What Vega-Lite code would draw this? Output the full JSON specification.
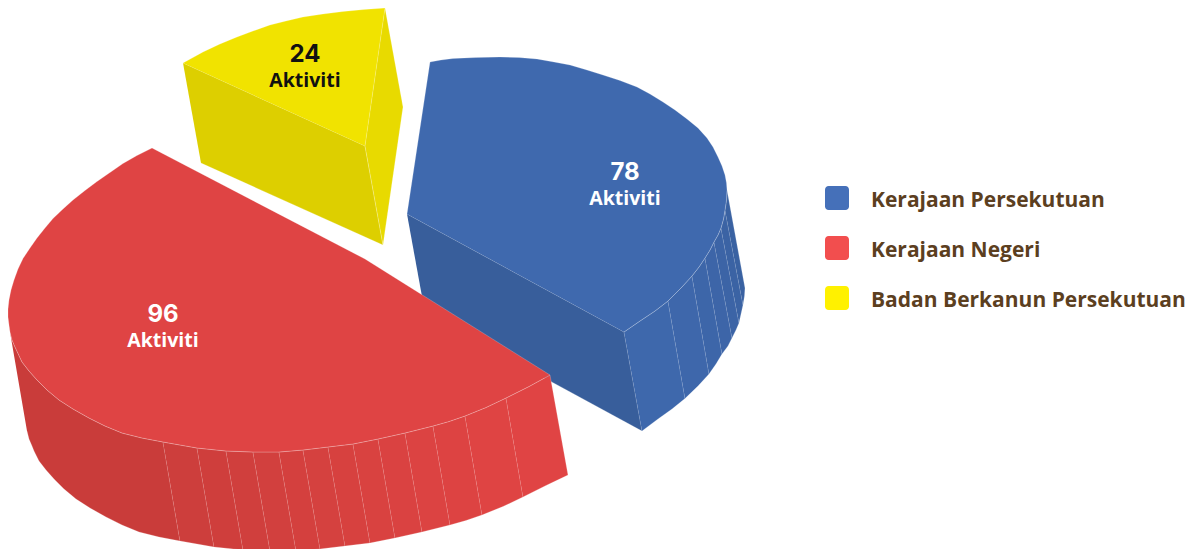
{"$schema":"https://vega.github.io/schema/vega-lite/v6.json","width":1192,"height":549,"padding":0,"autosize":{"type":"none"},"background":"white","view":{"stroke":null},
"datasets":{"slices":[
{"kategori":"Kerajaan Persekutuan","aktiviti":78,"lx":625,"ly":186},
{"kategori":"Kerajaan Negeri","aktiviti":96,"lx":163,"ly":328},
{"kategori":"Badan Berkanun Persekutuan","aktiviti":24,"lx":305,"ly":68}],
"faces":[
{"p":"P-side","i":0,"x":407,"y":214},{"p":"P-side","i":1,"x":624,"y":332},{"p":"P-side","i":2,"x":642,"y":431},{"p":"P-side","i":3,"x":425,"y":313},
{"p":"P1","i":0,"x":624,"y":332},{"p":"P1","i":1,"x":640,"y":321},{"p":"P1","i":2,"x":655,"y":311},{"p":"P1","i":3,"x":668,"y":301},{"p":"P1","i":4,"x":685,"y":398.5},{"p":"P1","i":5,"x":672,"y":409},{"p":"P1","i":6,"x":658,"y":419},{"p":"P1","i":7,"x":642,"y":431},
{"p":"P2","i":0,"x":668,"y":301},{"p":"P2","i":1,"x":681,"y":288},{"p":"P2","i":2,"x":692,"y":276},{"p":"P2","i":3,"x":709,"y":374},{"p":"P2","i":4,"x":698,"y":386},{"p":"P2","i":5,"x":685,"y":398.5},
{"p":"P3","i":0,"x":692,"y":276},{"p":"P3","i":1,"x":699,"y":267},{"p":"P3","i":2,"x":705,"y":258},{"p":"P3","i":3,"x":722,"y":354},{"p":"P3","i":4,"x":716,"y":364},{"p":"P3","i":5,"x":709,"y":374},
{"p":"P4","i":0,"x":705,"y":258},{"p":"P4","i":1,"x":710,"y":250},{"p":"P4","i":2,"x":714,"y":242},{"p":"P4","i":3,"x":732,"y":338},{"p":"P4","i":4,"x":728,"y":346},{"p":"P4","i":5,"x":722,"y":354},
{"p":"P5","i":0,"x":714,"y":242},{"p":"P5","i":1,"x":718,"y":235},{"p":"P5","i":2,"x":721,"y":228},{"p":"P5","i":3,"x":739,"y":323},{"p":"P5","i":4,"x":736,"y":330},{"p":"P5","i":5,"x":732,"y":338},
{"p":"P6","i":0,"x":721,"y":228},{"p":"P6","i":1,"x":723.5,"y":219},{"p":"P6","i":2,"x":725,"y":210},{"p":"P6","i":3,"x":743,"y":305},{"p":"P6","i":4,"x":741,"y":314},{"p":"P6","i":5,"x":739,"y":323},
{"p":"P7","i":0,"x":725,"y":210},{"p":"P7","i":1,"x":726.5,"y":200},{"p":"P7","i":2,"x":727,"y":190},{"p":"P7","i":3,"x":745,"y":288},{"p":"P7","i":4,"x":744.5,"y":296},{"p":"P7","i":5,"x":743,"y":305},
{"p":"P-top","i":0,"x":407,"y":214},{"p":"P-top","i":1,"x":430,"y":62},{"p":"P-top","i":2,"x":441,"y":60},{"p":"P-top","i":3,"x":453,"y":58.5},{"p":"P-top","i":4,"x":476,"y":57.5},{"p":"P-top","i":5,"x":500,"y":57},{"p":"P-top","i":6,"x":519,"y":57.5},{"p":"P-top","i":7,"x":537,"y":59},{"p":"P-top","i":8,"x":554,"y":62},{"p":"P-top","i":9,"x":570,"y":65},{"p":"P-top","i":10,"x":587,"y":70},{"p":"P-top","i":11,"x":603,"y":75},{"p":"P-top","i":12,"x":620,"y":80.5},{"p":"P-top","i":13,"x":637,"y":87},{"p":"P-top","i":14,"x":650,"y":94},{"p":"P-top","i":15,"x":663,"y":102},{"p":"P-top","i":16,"x":675,"y":110},{"p":"P-top","i":17,"x":687,"y":119},{"p":"P-top","i":18,"x":698,"y":128},{"p":"P-top","i":19,"x":707,"y":138},{"p":"P-top","i":20,"x":713,"y":147},{"p":"P-top","i":21,"x":718,"y":157},{"p":"P-top","i":22,"x":722,"y":166},{"p":"P-top","i":23,"x":725,"y":175},{"p":"P-top","i":24,"x":726.5,"y":183},{"p":"P-top","i":25,"x":727,"y":190},{"p":"P-top","i":26,"x":726.5,"y":200},{"p":"P-top","i":27,"x":725,"y":210},{"p":"P-top","i":28,"x":723.5,"y":219},{"p":"P-top","i":29,"x":721,"y":228},{"p":"P-top","i":30,"x":718,"y":235},{"p":"P-top","i":31,"x":714,"y":242},{"p":"P-top","i":32,"x":710,"y":250},{"p":"P-top","i":33,"x":705,"y":258},{"p":"P-top","i":34,"x":699,"y":267},{"p":"P-top","i":35,"x":692,"y":276},{"p":"P-top","i":36,"x":681,"y":288},{"p":"P-top","i":37,"x":668,"y":301},{"p":"P-top","i":38,"x":655,"y":311},{"p":"P-top","i":39,"x":640,"y":321},{"p":"P-top","i":40,"x":624,"y":332},
{"p":"B-left","i":0,"x":183,"y":63},{"p":"B-left","i":1,"x":365,"y":146},{"p":"B-left","i":2,"x":383,"y":245},{"p":"B-left","i":3,"x":201,"y":163},
{"p":"B-right","i":0,"x":385,"y":8},{"p":"B-right","i":1,"x":403,"y":107},{"p":"B-right","i":2,"x":383,"y":245},{"p":"B-right","i":3,"x":365,"y":146},
{"p":"B-top","i":0,"x":183,"y":63},{"p":"B-top","i":1,"x":193,"y":57.5},{"p":"B-top","i":2,"x":203,"y":52},{"p":"B-top","i":3,"x":220,"y":44},{"p":"B-top","i":4,"x":237,"y":37},{"p":"B-top","i":5,"x":253,"y":31},{"p":"B-top","i":6,"x":270,"y":25},{"p":"B-top","i":7,"x":286,"y":21},{"p":"B-top","i":8,"x":303,"y":17},{"p":"B-top","i":9,"x":323,"y":14},{"p":"B-top","i":10,"x":343,"y":11.5},{"p":"B-top","i":11,"x":364,"y":9.5},{"p":"B-top","i":12,"x":385,"y":8},{"p":"B-top","i":13,"x":365,"y":146},
{"p":"N-side","i":0,"x":10,"y":332},{"p":"N-side","i":1,"x":12,"y":340},{"p":"N-side","i":2,"x":15,"y":347},{"p":"N-side","i":3,"x":22,"y":362},{"p":"N-side","i":4,"x":29,"y":371},{"p":"N-side","i":5,"x":37,"y":380},{"p":"N-side","i":6,"x":47,"y":390},{"p":"N-side","i":7,"x":59,"y":400},{"p":"N-side","i":8,"x":73,"y":409},{"p":"N-side","i":9,"x":89,"y":418},{"p":"N-side","i":10,"x":105,"y":426},{"p":"N-side","i":11,"x":122,"y":433},{"p":"N-side","i":12,"x":142,"y":438},{"p":"N-side","i":13,"x":163,"y":442},{"p":"N-side","i":14,"x":180,"y":541},{"p":"N-side","i":15,"x":159,"y":537},{"p":"N-side","i":16,"x":139,"y":532},{"p":"N-side","i":17,"x":122,"y":525},{"p":"N-side","i":18,"x":106,"y":517},{"p":"N-side","i":19,"x":90,"y":508},{"p":"N-side","i":20,"x":76,"y":499},{"p":"N-side","i":21,"x":64,"y":489},{"p":"N-side","i":22,"x":54,"y":479},{"p":"N-side","i":23,"x":46,"y":470},{"p":"N-side","i":24,"x":39,"y":461},{"p":"N-side","i":25,"x":34,"y":451},{"p":"N-side","i":26,"x":32,"y":446},{"p":"N-side","i":27,"x":29,"y":439},{"p":"N-side","i":28,"x":27,"y":431},
{"p":"N1","i":0,"x":163,"y":442},{"p":"N1","i":1,"x":197,"y":448},{"p":"N1","i":2,"x":214,"y":547},{"p":"N1","i":3,"x":180,"y":541},
{"p":"N2","i":0,"x":197,"y":448},{"p":"N2","i":1,"x":226,"y":451},{"p":"N2","i":2,"x":243,"y":550},{"p":"N2","i":3,"x":214,"y":547},
{"p":"N3","i":0,"x":226,"y":451},{"p":"N3","i":1,"x":253,"y":452},{"p":"N3","i":2,"x":270,"y":551},{"p":"N3","i":3,"x":243,"y":550},
{"p":"N4","i":0,"x":253,"y":452},{"p":"N4","i":1,"x":279,"y":452},{"p":"N4","i":2,"x":296,"y":551},{"p":"N4","i":3,"x":270,"y":551},
{"p":"N5","i":0,"x":279,"y":452},{"p":"N5","i":1,"x":303,"y":450},{"p":"N5","i":2,"x":320,"y":549},{"p":"N5","i":3,"x":296,"y":551},
{"p":"N6","i":0,"x":303,"y":450},{"p":"N6","i":1,"x":328,"y":447},{"p":"N6","i":2,"x":345,"y":546},{"p":"N6","i":3,"x":320,"y":549},
{"p":"N7","i":0,"x":328,"y":447},{"p":"N7","i":1,"x":353,"y":444},{"p":"N7","i":2,"x":370,"y":543},{"p":"N7","i":3,"x":345,"y":546},
{"p":"N8","i":0,"x":353,"y":444},{"p":"N8","i":1,"x":378,"y":439},{"p":"N8","i":2,"x":395,"y":538},{"p":"N8","i":3,"x":370,"y":543},
{"p":"N9","i":0,"x":378,"y":439},{"p":"N9","i":1,"x":405,"y":433},{"p":"N9","i":2,"x":422,"y":532},{"p":"N9","i":3,"x":395,"y":538},
{"p":"N10","i":0,"x":405,"y":433},{"p":"N10","i":1,"x":433,"y":426},{"p":"N10","i":2,"x":450,"y":525},{"p":"N10","i":3,"x":422,"y":532},
{"p":"N11","i":0,"x":433,"y":426},{"p":"N11","i":1,"x":449,"y":421.5},{"p":"N11","i":2,"x":465,"y":416},{"p":"N11","i":3,"x":482,"y":515},{"p":"N11","i":4,"x":466,"y":520.5},{"p":"N11","i":5,"x":450,"y":525},
{"p":"N12","i":0,"x":465,"y":416},{"p":"N12","i":1,"x":486,"y":407.5},{"p":"N12","i":2,"x":506,"y":398},{"p":"N12","i":3,"x":523,"y":497},{"p":"N12","i":4,"x":503,"y":506.5},{"p":"N12","i":5,"x":482,"y":515},
{"p":"N13","i":0,"x":506,"y":398},{"p":"N13","i":1,"x":529,"y":386.5},{"p":"N13","i":2,"x":550,"y":375},{"p":"N13","i":3,"x":568,"y":475},{"p":"N13","i":4,"x":546,"y":485.5},{"p":"N13","i":5,"x":523,"y":497},
{"p":"N-top","i":0,"x":550,"y":375},{"p":"N-top","i":1,"x":365,"y":259},{"p":"N-top","i":2,"x":152,"y":148},{"p":"N-top","i":3,"x":137,"y":155.5},{"p":"N-top","i":4,"x":123,"y":163.5},{"p":"N-top","i":5,"x":110,"y":172.5},{"p":"N-top","i":6,"x":97,"y":181.5},{"p":"N-top","i":7,"x":85,"y":190.5},{"p":"N-top","i":8,"x":73,"y":200},{"p":"N-top","i":9,"x":63,"y":209},{"p":"N-top","i":10,"x":53,"y":218.5},{"p":"N-top","i":11,"x":45,"y":228},{"p":"N-top","i":12,"x":37,"y":238},{"p":"N-top","i":13,"x":30,"y":248},{"p":"N-top","i":14,"x":23,"y":258.5},{"p":"N-top","i":15,"x":18,"y":269},{"p":"N-top","i":16,"x":14,"y":280},{"p":"N-top","i":17,"x":11,"y":290},{"p":"N-top","i":18,"x":9,"y":300},{"p":"N-top","i":19,"x":8,"y":309},{"p":"N-top","i":20,"x":8,"y":317},{"p":"N-top","i":21,"x":9,"y":325},{"p":"N-top","i":22,"x":10,"y":332},{"p":"N-top","i":23,"x":12,"y":340},{"p":"N-top","i":24,"x":15,"y":347},{"p":"N-top","i":25,"x":22,"y":362},{"p":"N-top","i":26,"x":29,"y":371},{"p":"N-top","i":27,"x":37,"y":380},{"p":"N-top","i":28,"x":47,"y":390},{"p":"N-top","i":29,"x":59,"y":400},{"p":"N-top","i":30,"x":73,"y":409},{"p":"N-top","i":31,"x":89,"y":418},{"p":"N-top","i":32,"x":105,"y":426},{"p":"N-top","i":33,"x":122,"y":433},{"p":"N-top","i":34,"x":142,"y":438},{"p":"N-top","i":35,"x":163,"y":442},{"p":"N-top","i":36,"x":197,"y":448},{"p":"N-top","i":37,"x":226,"y":451},{"p":"N-top","i":38,"x":253,"y":452},{"p":"N-top","i":39,"x":279,"y":452},{"p":"N-top","i":40,"x":303,"y":450},{"p":"N-top","i":41,"x":328,"y":447},{"p":"N-top","i":42,"x":353,"y":444},{"p":"N-top","i":43,"x":378,"y":439},{"p":"N-top","i":44,"x":405,"y":433},{"p":"N-top","i":45,"x":433,"y":426},{"p":"N-top","i":46,"x":449,"y":421.5},{"p":"N-top","i":47,"x":465,"y":416},{"p":"N-top","i":48,"x":486,"y":407.5},{"p":"N-top","i":49,"x":506,"y":398},{"p":"N-top","i":50,"x":529,"y":386.5},{"p":"N-top","i":51,"x":550,"y":375}
]},
"layer":[
{"data":{"name":"faces"},
 "mark":{"type":"line","clip":true,"stroke":"#ffffff","strokeOpacity":0.3,"strokeWidth":0.7},
 "encoding":{
  "x":{"field":"x","type":"quantitative","axis":null,"scale":{"domain":[0,1192],"nice":false,"zero":false}},
  "y":{"field":"y","type":"quantitative","axis":null,"scale":{"domain":[549,0],"nice":false,"zero":false}},
  "order":{"field":"i","type":"ordinal"},
  "fill":{"field":"p","type":"nominal","legend":null,"sort":null,"scale":{
    "domain":["P-side","P1","P2","P3","P4","P5","P6","P7","P-top","B-left","B-right","B-top","N-side","N1","N2","N3","N4","N5","N6","N7","N8","N9","N10","N11","N12","N13","N-top"],
    "range":["#385e9b","#3e68ac","#3e67ab","#3d66a9","#3d65a8","#3c64a6","#3b63a4","#3a62a2","#3f69ae","#ddcf00","#e8da00","#f1e300","#c93c3a","#cd3e3c","#cf3e3c","#d03f3d","#d2403e","#d4403e","#d5413f","#d7413f","#d94240","#da4241","#dc4342","#dd4342","#df4443","#e04444","#df4444"]}}}},
{"data":{"name":"slices"},
 "mark":{"type":"point","filled":true,"opacity":1},
 "encoding":{
  "x":{"field":"lx","type":"quantitative"},
  "y":{"field":"ly","type":"quantitative"},
  "size":{"value":0},
  "color":{"field":"kategori","type":"nominal","scale":{"domain":["Kerajaan Persekutuan","Kerajaan Negeri","Badan Berkanun Persekutuan"],"range":["#4570b9","#f24e4e","#fff100"]},
   "legend":{"title":null,"orient":"none","legendX":825,"legendY":186,"symbolType":"M-1,-0.7A0.3,0.3 0 0 1 -0.7,-1L0.7,-1A0.3,0.3 0 0 1 1,-0.7L1,0.7A0.3,0.3 0 0 1 0.7,1L-0.7,1A0.3,0.3 0 0 1 -1,0.7Z","symbolSize":576,"symbolOpacity":1,"symbolStrokeWidth":0,"labelFont":"Open Sans","labelFontWeight":"bold","labelFontSize":21,"labelColor":"#5c3f1f","labelOffset":22,"rowPadding":25,"labelLimit":400,"encode":{"labels":{"update":{"dy":{"value":3}}}}}}}},
{"data":{"name":"slices"},
 "mark":{"type":"text","font":"Inter","fontWeight":"bold","fontSize":24,"dy":-13,"align":"center","baseline":"middle"},
 "encoding":{
  "x":{"field":"lx","type":"quantitative"},
  "y":{"field":"ly","type":"quantitative"},
  "text":{"field":"aktiviti","type":"quantitative"},
  "color":{"condition":{"test":"datum.aktiviti === 24","value":"#111111"},"value":"#ffffff"}}},
{"data":{"name":"slices"},
 "mark":{"type":"text","font":"Open Sans","fontWeight":"bold","fontSize":19.5,"dy":13,"align":"center","baseline":"middle"},
 "encoding":{
  "x":{"field":"lx","type":"quantitative"},
  "y":{"field":"ly","type":"quantitative"},
  "text":{"value":"Aktiviti"},
  "color":{"condition":{"test":"datum.aktiviti === 24","value":"#111111"},"value":"#ffffff"}}}
]}
